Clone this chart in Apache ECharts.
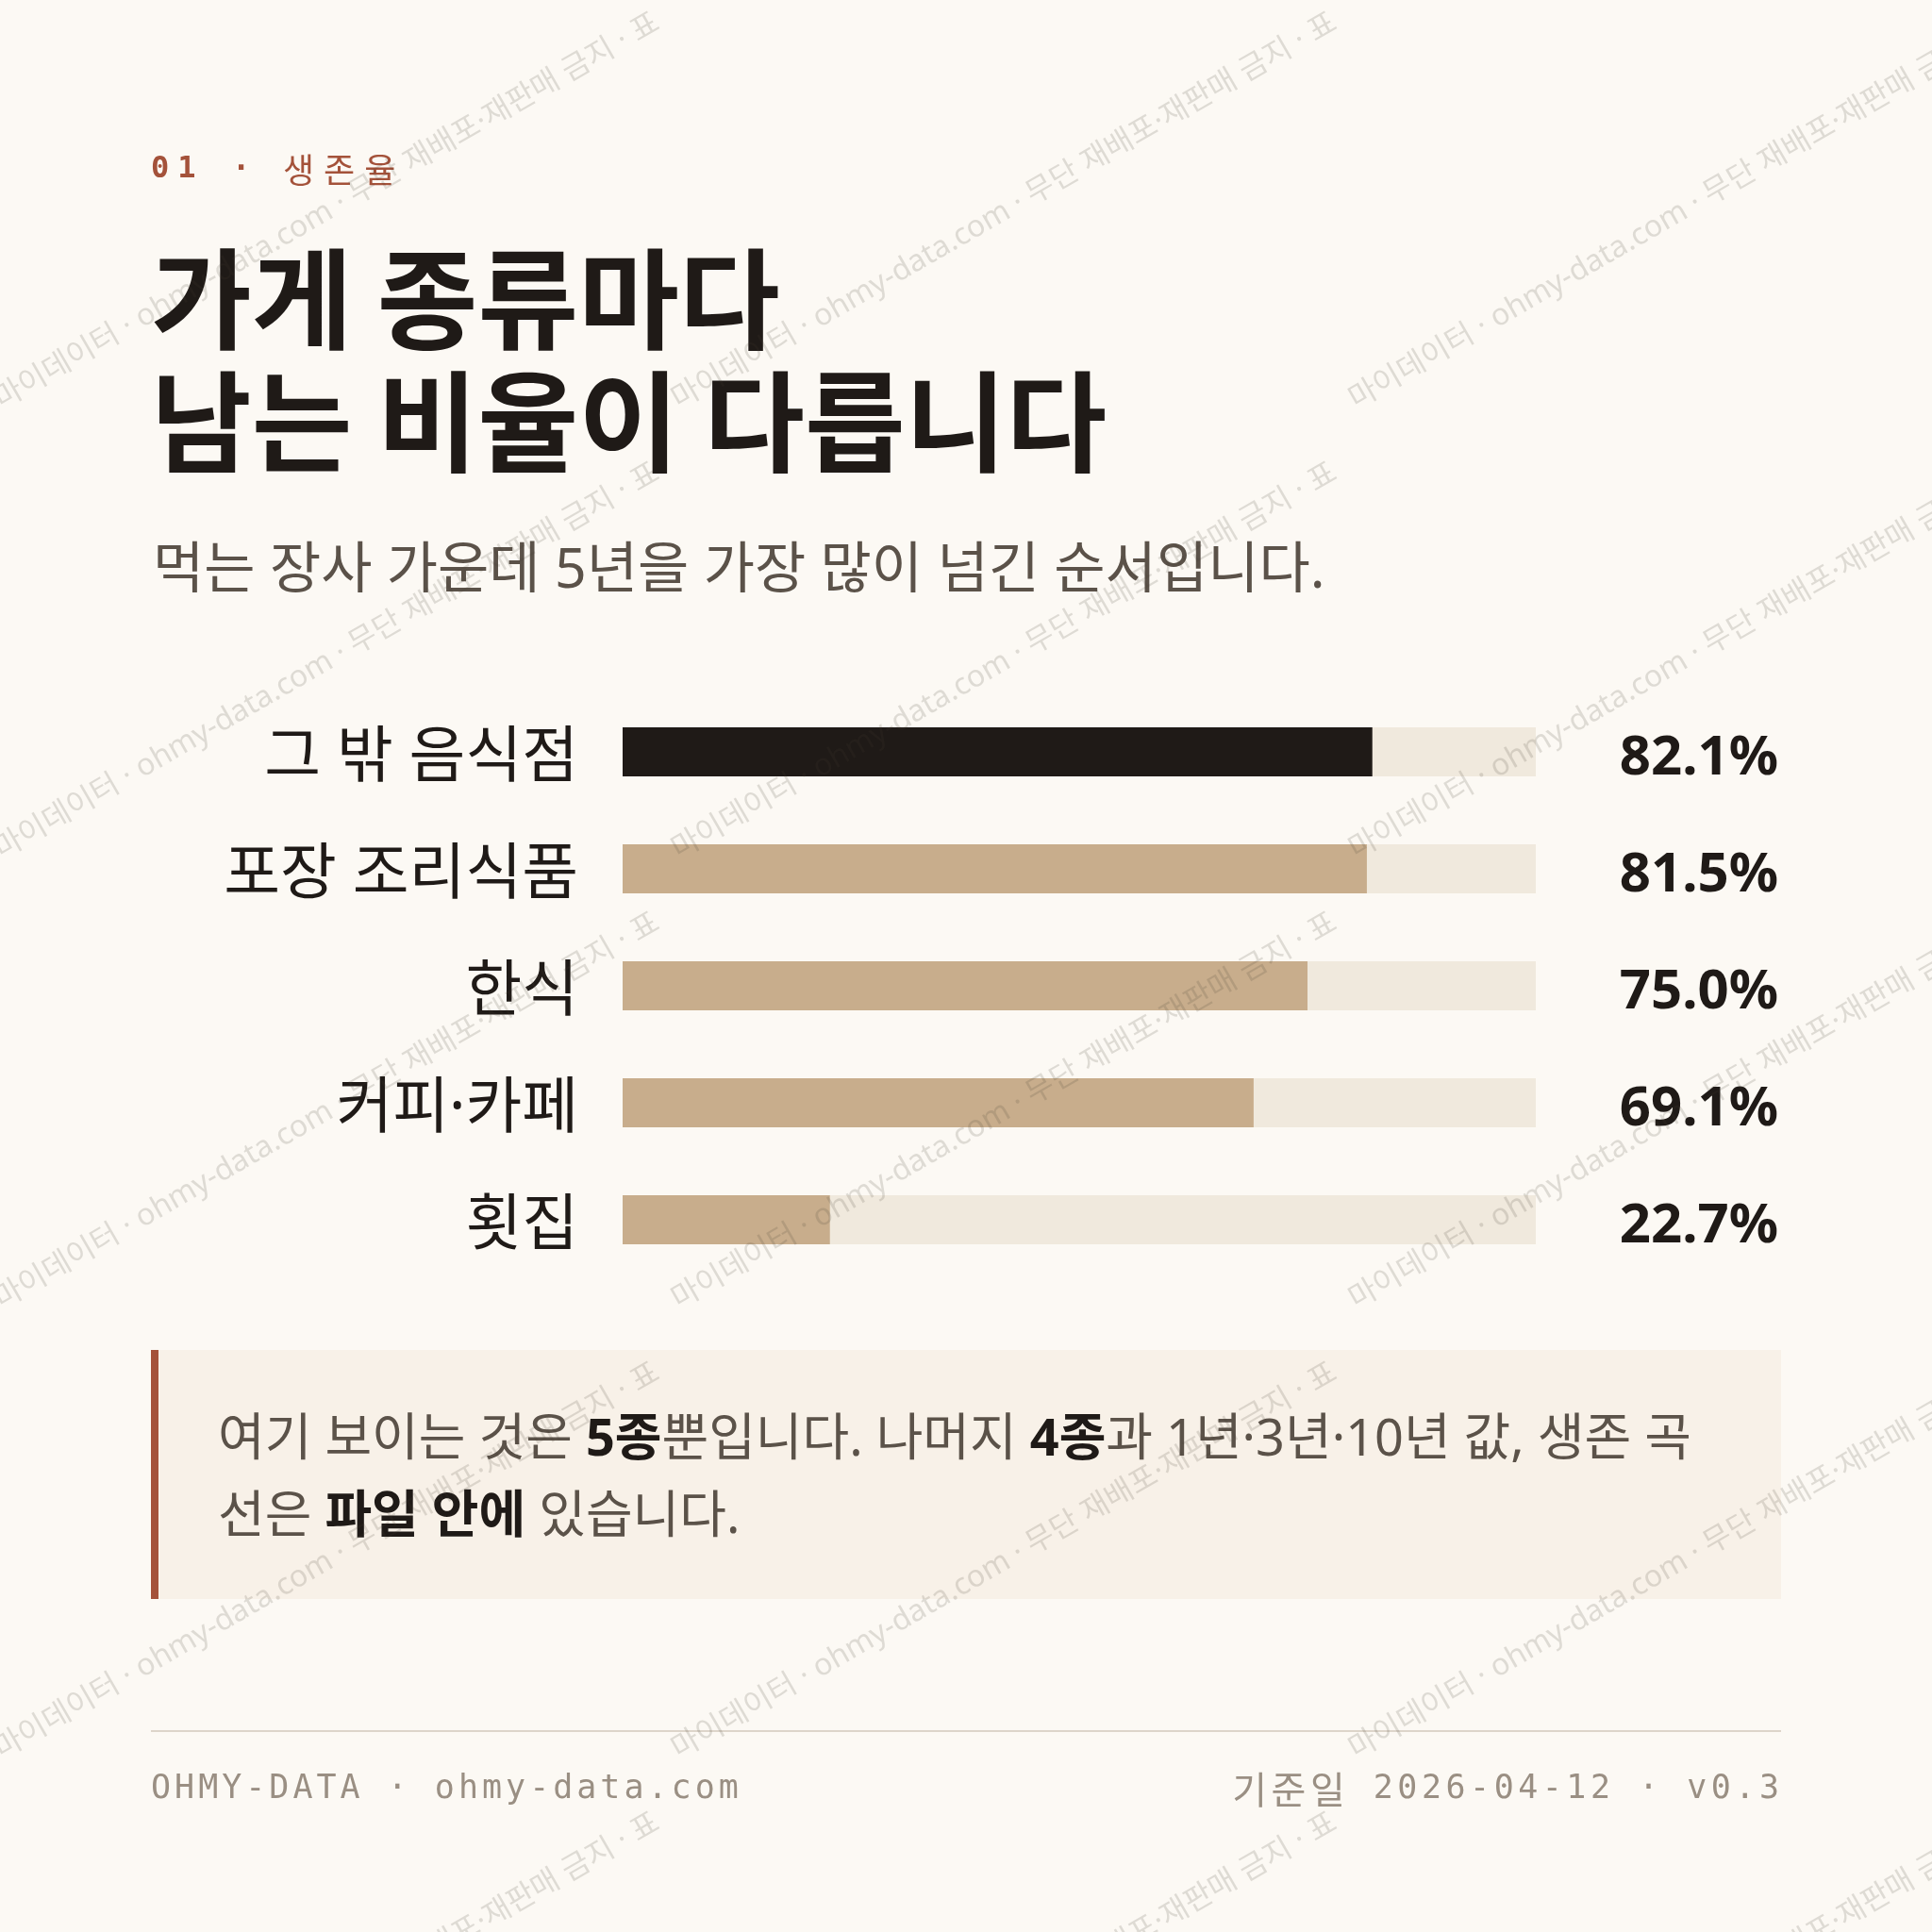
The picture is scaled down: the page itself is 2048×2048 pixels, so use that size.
<!DOCTYPE html>
<html><head><meta charset="utf-8">
<script src="https://cdn.jsdelivr.net/npm/echarts@6/dist/echarts.min.js"></script>
<style>html,body{margin:0;padding:0;background:#fcf9f4;}#c{width:2048px;height:2048px;}</style>
</head><body><div id="c"></div>
<script>
// ---- data ----
const categories = ['그 밖 음식점', '포장 조리식품', '한식', '커피·카페', '횟집'];
const survival5y = [82.1, 81.5, 75.0, 69.1, 22.7];
const highlightIndex = 0;
const axisMin = 0;
const axisMax = 100;

const kickerNum = '01';
const kickerText = '생존율';
const titleLines = ['가게 종류마다', '남는 비율이 다릅니다'];
const subtitle = '먹는 장사 가운데 5년을 가장 많이 넘긴 순서입니다.';
const noteLine1 = [['여기 보이는 것은 ', 0], ['5종', 1], ['뿐입니다. 나머지 ', 0], ['4종', 1], ['과 1년·3년·10년 값, 생존 곡', 0]];
const noteLine2 = [['선은 ', 0], ['파일 안에', 1], [' 있습니다.', 0]];
const footerLeft = 'OHMY-DATA · ohmy-data.com';
const footerRight = '기준일 2026-04-12 · v0.3';
const watermark = '마이데이터 · ohmy-data.com · 무단 재배포·재판매 금지 · 표';

// ---- style ----
const BG = '#fcf9f4', INK = '#1f1a17', TAN = '#c8ad8c', TRACK = '#f0e9dd';
const RUST = '#a4523a', GREY = '#5b5249', MUTED = '#9a8f83';
const KR = '"Noto Sans", "Noto Sans CJK KR"';
const KRONLY = '"Noto Sans CJK KR"';
const MONO = '"DejaVu Sans Mono", "Noto Sans CJK KR"';

const ctx = document.createElement('canvas').getContext('2d');
function mw(t, font) { ctx.font = font; return ctx.measureText(t).width; }
const isHangul = c => /[\uac00-\ud7a3]/.test(c);
function spaced(str, x, y, font, fill, ls, align, hangulFont) {
  const chars = Array.from(str);
  const fonts = chars.map(c => (hangulFont && isHangul(c)) ? hangulFont : font);
  const ws = chars.map((c, i) => mw(c, fonts[i]));
  const total = ws.reduce((a, b) => a + b, 0) + ls * (chars.length - 1);
  let cx = align === 'right' ? x - total : x;
  return chars.map((c, i) => {
    const el = { type: 'text', x: cx, y: y, z: 5, silent: true,
      style: { text: c, font: fonts[i], fill: fill, align: 'left', verticalAlign: 'middle' } };
    cx += ws[i] + ls;
    return el;
  });
}
function rich(parts) {
  return parts.map(p => '{' + (p[1] ? 'b' : 'n') + '|' + p[0] + '}').join('');
}
const noteRich = {
  n: { font: '54px ' + KR, fill: GREY, color: GREY },
  b: { font: 'bold 54px ' + KR, fill: INK, color: INK }
};

const graphics = [];
// header kicker
graphics.push(...spaced(kickerNum, 160, 180, 'bold 32px ' + MONO, RUST, 9));
graphics.push(...spaced('·', 246, 180, 'bold 32px ' + MONO, RUST, 0));
graphics.push(...spaced(kickerText, 300, 180, '36px ' + KRONLY, RUST, 10));
// title
titleLines.forEach((t, i) => graphics.push({ type: 'text', x: 160, y: 317 + i * 130, z: 5, silent: true,
  style: { text: t, font: 'bold 116px ' + KRONLY, fill: INK, align: 'left', verticalAlign: 'middle' } }));
graphics.push({ type: 'text', x: 162, y: 606, z: 5, silent: true,
  style: { text: subtitle, font: '59px ' + KR, fill: GREY, align: 'left', verticalAlign: 'middle' } });
// note box
graphics.push({ type: 'rect', z: 0, silent: true, shape: { x: 160, y: 1431, width: 1728, height: 264 }, style: { fill: '#f8f1e8' } });
graphics.push({ type: 'rect', z: 1, silent: true, shape: { x: 160, y: 1431, width: 8, height: 264 }, style: { fill: RUST } });
[noteLine1, noteLine2].forEach((ln, i) => graphics.push({ type: 'text', x: 231, y: 1528 + i * 82, z: 5, silent: true,
  style: { text: rich(ln), rich: noteRich, font: '54px ' + KR, fill: GREY, align: 'left', verticalAlign: 'middle' } }));
// footer
graphics.push({ type: 'line', z: 1, silent: true, shape: { x1: 160, y1: 1835, x2: 1888, y2: 1835 }, style: { stroke: '#ddd5ca', lineWidth: 2 } });
graphics.push(...spaced(footerLeft, 160, 1897, '35px ' + MONO, MUTED, 4));
graphics.push(...spaced(footerRight, 1886, 1897, '35px ' + MONO, MUTED, 4.5, 'right', '40px ' + KRONLY));
// watermark tiles
for (let r = 0; r < 5; r++) {
  for (let c = 0; c < 3; c++) {
    graphics.push({ type: 'text', x: c * 718 - 3, y: 426 + r * 477, rotation: Math.PI / 6, z: 100, silent: true,
      style: { text: watermark, font: '32px ' + KR, fill: 'rgba(70,60,50,0.16)', align: 'left', verticalAlign: 'middle' } });
  }
}

const chart = echarts.init(document.getElementById('c'), null, { renderer: 'canvas' });
chart.setOption({
  backgroundColor: BG,
  animation: false,
  grid: { left: 660, right: 420, top: 735, height: 620, containLabel: false },
  xAxis: { type: 'value', min: axisMin, max: axisMax, show: false },
  yAxis: [
    { type: 'category', data: categories, inverse: true,
      axisLine: { show: false }, axisTick: { show: false }, splitLine: { show: false },
      axisLabel: { margin: 47, color: INK,
        formatter: v => '{c|' + v + '}',
        rich: { c: { fontSize: 65, fontFamily: 'Noto Sans, Noto Sans CJK KR', color: INK, padding: [14, 0, 0, 0] } } } },
    { type: 'category', data: categories, inverse: true, position: 'right',
      axisLine: { show: false }, axisTick: { show: false }, splitLine: { show: false },
      axisLabel: { margin: 257, align: 'right', color: INK,
        formatter: (v, i) => '{v|' + survival5y[i].toFixed(1) + '%}',
        rich: { v: { fontSize: 58, fontWeight: 'bold', fontFamily: 'Noto Sans', color: INK, padding: [14, 0, 0, 0] } } } }
  ],
  series: [{
    type: 'bar', yAxisIndex: 0, data: survival5y, barWidth: 52, silent: true,
    showBackground: true, backgroundStyle: { color: TRACK },
    itemStyle: { color: p => p.dataIndex === highlightIndex ? INK : TAN }
  }],
  graphic: { elements: graphics }
});
</script></body></html>
